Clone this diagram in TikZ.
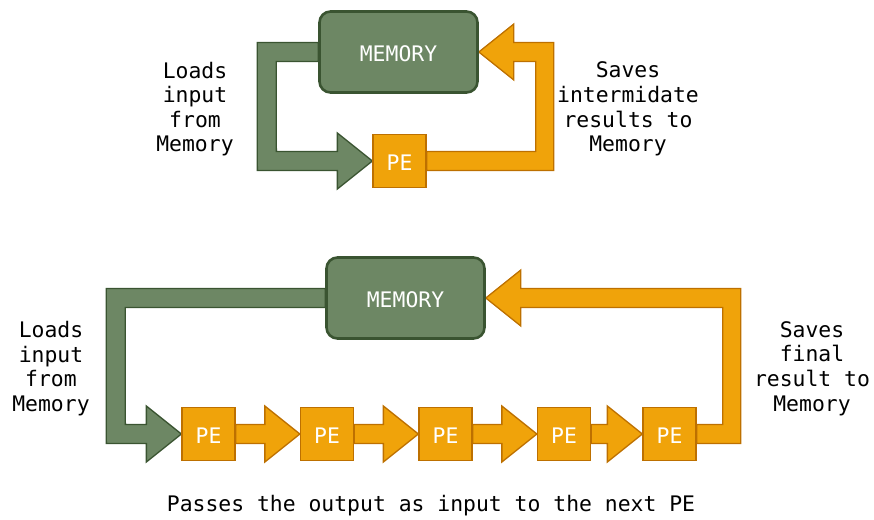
\documentclass[tikz,border=0pt]{standalone}
\usepackage{fontspec}
\setmainfont{DejaVu Sans Mono}
\usetikzlibrary{calc}
\definecolor{gfill}{HTML}{6D8764}
\definecolor{gline}{HTML}{3A5431}
\definecolor{ofill}{HTML}{F0A30A}
\definecolor{oline}{HTML}{BD7000}
\tikzset{
  memory/.style={draw=gline, fill=gfill, line width=2.6pt, rounded corners=11pt,
    minimum width=158pt, minimum height=81pt, text=white, inner sep=0pt,
    font=\fontsize{21.4}{24.6}\selectfont},
  pebox/.style={draw=oline, fill=ofill, line width=1.3pt, minimum width=53pt,
    minimum height=53pt, text=white, inner sep=0pt, font=\fontsize{21.4}{24.6}\selectfont},
  garrow/.style={draw=gline, fill=gfill, line width=1.3pt, line join=miter},
  oarrow/.style={draw=oline, fill=ofill, line width=1.3pt, line join=miter},
  label/.style={align=center, inner sep=0pt, text=black, font=\fontsize{21.4}{24.6}\selectfont}
}
\newcommand{\lowtxt}[1]{\raisebox{-2pt}[\height][0pt]{#1}}
\begin{document}
\begin{tikzpicture}[x=1pt,y=-1pt]
\useasboundingbox (0,0) rectangle (874,519);
\coordinate (m1c) at (398.5,52);
\coordinate (p0c) at (399.5,161);
\coordinate (m2c) at (405.5,298);
% invisible placeholders used to build the arrows
\path (m1c) node[memory, draw=none, fill=none] (m1) {\phantom{MEMORY}};
\path (p0c) node[pebox, draw=none, fill=none] (p0) {\phantom{PE}};
\path (m2c) node[memory, draw=none, fill=none] (m2) {\phantom{MEMORY}};
\foreach \i/\x in {1/208.5, 2/327, 3/445.5, 4/564, 5/669.5}{
  \path (\x,434) node[pebox, draw=none, fill=none] (q\i) {\phantom{PE}};
}
% top green arrow
\draw[garrow] ($(m1.west)+(0,-9.5)$) -- ($(m1.west)+(-61,-9.5)$) -- ($(p0.west)+(-115,9.5)$)
  -- ($(p0.west)+(-35,9.5)$) -- ($(p0.west)+(-35,28)$) -- (p0.west) -- ($(p0.west)+(-35,-28)$)
  -- ($(p0.west)+(-35,-9.5)$) -- ($(p0.west)+(-96,-9.5)$) -- ($(m1.west)+(-42,9.5)$)
  -- ($(m1.west)+(0,9.5)$) -- cycle;
% top orange arrow
\draw[oarrow] ($(p0.east)+(0,-9.5)$) -- ($(p0.east)+(109,-9.5)$) -- ($(m1.east)+(57,9.5)$)
  -- ($(m1.east)+(35,9.5)$) -- ($(m1.east)+(35,28)$) -- (m1.east) -- ($(m1.east)+(35,-28)$)
  -- ($(m1.east)+(35,-9.5)$) -- ($(m1.east)+(75,-9.5)$) -- ($(p0.east)+(127,9.5)$)
  -- ($(p0.east)+(0,9.5)$) -- cycle;
% bottom green arrow
\draw[garrow] ($(m2.west)+(0,-9.5)$) -- ($(m2.west)+(-219,-9.5)$) -- ($(q1.west)+(-75,9.5)$)
  -- ($(q1.west)+(-35,9.5)$) -- ($(q1.west)+(-35,28)$) -- (q1.west) -- ($(q1.west)+(-35,-28)$)
  -- ($(q1.west)+(-35,-9.5)$) -- ($(q1.west)+(-56,-9.5)$) -- ($(m2.west)+(-200,9.5)$)
  -- ($(m2.west)+(0,9.5)$) -- cycle;
% bottom orange arrow
\draw[oarrow] ($(q5.east)+(0,-9.5)$) -- ($(q5.east)+(26,-9.5)$) -- ($(m2.east)+(237,9.5)$)
  -- ($(m2.east)+(35,9.5)$) -- ($(m2.east)+(35,28)$) -- (m2.east) -- ($(m2.east)+(35,-28)$)
  -- ($(m2.east)+(35,-9.5)$) -- ($(m2.east)+(255,-9.5)$) -- ($(q5.east)+(44,9.5)$)
  -- ($(q5.east)+(0,9.5)$) -- cycle;
% small arrows between PEs
\foreach \a/\b in {q1/q2, q2/q3, q3/q4, q4/q5}{
  \draw[oarrow] ($(\a.east)+(0,-9.5)$) -- ($(\b.west)+(-35,-9.5)$) -- ($(\b.west)+(-35,-28)$)
    -- (\b.west) -- ($(\b.west)+(-35,28)$) -- ($(\b.west)+(-35,9.5)$)
    -- ($(\a.east)+(0,9.5)$) -- cycle;
}
% visible nodes
\node[memory] (mem1) at (m1c) {\lowtxt{MEMORY}};
\node[pebox] (pe0) at (p0c) {\lowtxt{PE}};
\node[memory] (mem2) at (m2c) {\lowtxt{MEMORY}};
\foreach \i/\x in {1/208.5, 2/327, 3/445.5, 4/564, 5/669.5}{
  \node[pebox] (pe\i) at (\x,434) {\lowtxt{PE}};
}
% labels
\node[label] (l1) at (195,109) {Loads\\input\\from\\Memory};
\node[label] (r1) at (628,109) {Saves\\intermidate\\results to\\Memory};
\node[label] (l2) at (51,368.5) {Loads\\input\\from\\Memory};
\node[label] (r2) at (812,368.5) {Saves\\final\\result to\\Memory};
\node[label] (cap) at (431,506) {Passes the output as input to the next PE};
\end{tikzpicture}
\end{document}
